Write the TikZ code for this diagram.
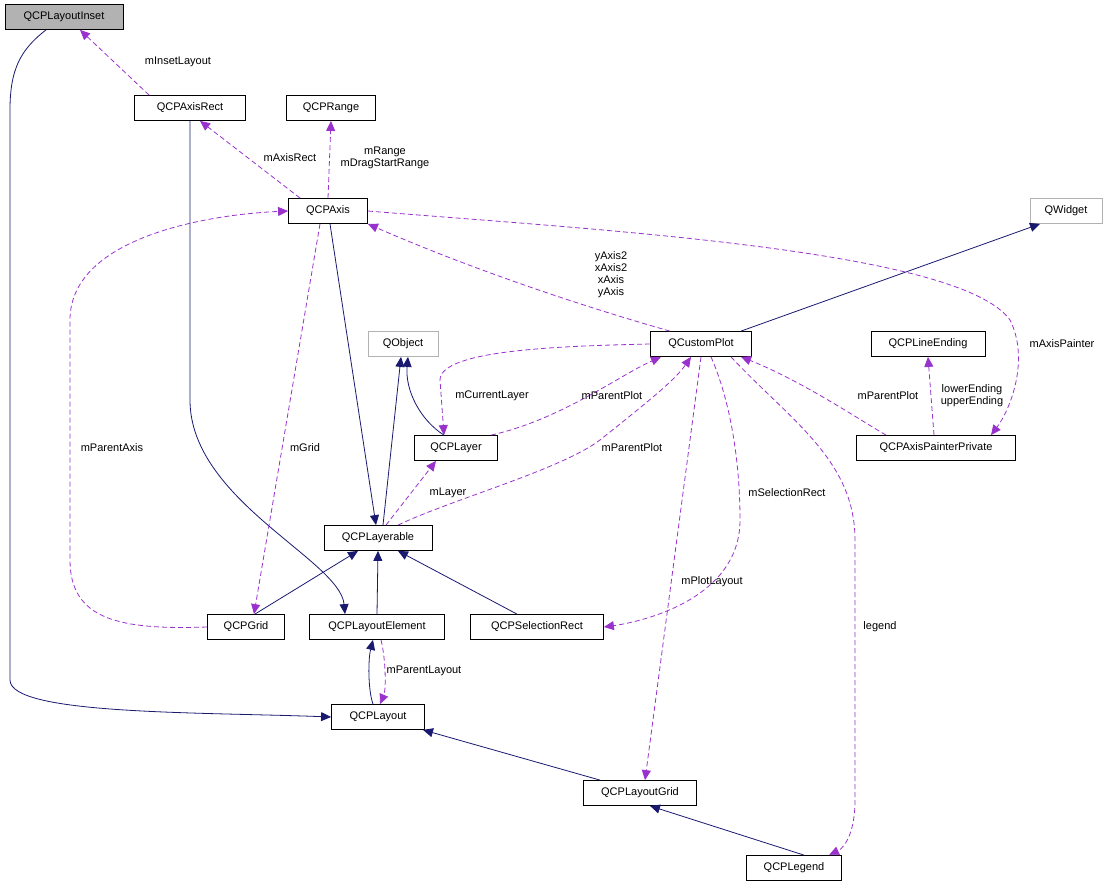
\documentclass[tikz,border=0pt]{standalone}
\usepackage{fontspec}
\setmainfont{Liberation Sans}
\usetikzlibrary{arrows.meta}
\tikzset{
  cls/.style={draw=black, fill=white, inner sep=0pt, minimum height=25pt, thick, font=\fontsize{11}{12}\selectfont},
  ext/.style={cls, draw=gray!60},
  inh/.style={draw={rgb,255:red,25;green,25;blue,112}, -{Triangle[length=10pt,width=9pt]}, thick},
  use/.style={draw={rgb,255:red,153;green,50;blue,204}, dash pattern=on 5pt off 3pt, -{Triangle[length=10pt,width=9pt]}, thick},
  lbl/.style={font=\fontsize{11}{12}\selectfont, align=center}
}
\begin{document}
\begin{tikzpicture}[x=1pt, y=-1pt]
  \useasboundingbox (0,0) rectangle (1108,888);
  % Classes
  \node[cls, fill=gray!60, minimum width=118pt] (inset) at (64,17) {QCPLayoutInset};
  \node[cls, minimum width=111pt] (axisrect) at (190,108) {QCPAxisRect};
  \node[cls, minimum width=89pt] (range) at (331,108) {QCPRange};
  \node[cls, minimum width=79pt] (axis) at (328,211) {QCPAxis};
  \node[ext, minimum width=72pt] (qwidget) at (1066,211) {QWidget};
  \node[ext, minimum width=70pt] (qobject) at (403,344) {QObject};
  \node[cls, minimum width=101pt] (plot) at (701,344) {QCustomPlot};
  \node[cls, minimum width=114pt] (lineend) at (928,344) {QCPLineEnding};
  \node[cls, minimum width=83pt] (layer) at (456,448) {QCPLayer};
  \node[cls, minimum width=159pt] (painter) at (936,448) {QCPAxisPainterPrivate};
  \node[cls, minimum width=108pt] (layerable) at (378,538) {QCPLayerable};
  \node[cls, minimum width=77pt] (grid) at (246,627) {QCPGrid};
  \node[cls, minimum width=135pt] (element) at (377,627) {QCPLayoutElement};
  \node[cls, minimum width=133pt] (selrect) at (537,627) {QCPSelectionRect};
  \node[cls, minimum width=93pt] (layout) at (378,717) {QCPLayout};
  \node[cls, minimum width=113pt] (lgrid) at (640,793) {QCPLayoutGrid};
  \node[cls, minimum width=95pt] (legend) at (794,868) {QCPLegend};
  % Inheritance
  \draw[inh] ([xshift=-18pt]inset.south) .. controls (20,50) and (10,70) .. (10,110) -- (10,680) .. controls (10,715) and (200,712) .. (layout.west);
  \draw[inh] (axisrect.south) -- (190,400) .. controls (190,500) and (340,560) .. ([xshift=-32pt]element.north);
  \draw[inh] ([xshift=2pt]axis.south) -- ([xshift=-2pt]layerable.north);
  \draw[inh] ([xshift=5pt]layerable.north) -- ([xshift=-2pt]qobject.south);
  \draw[inh] ([xshift=-12pt]layer.north) .. controls (420,420) and (405,390) .. ([xshift=5pt]qobject.south);
  \draw[inh] ([xshift=40pt]plot.north) -- ([xshift=-26pt]qwidget.south);
  \draw[inh] (grid.north east) ++(-30,0) -- ([xshift=-20pt]layerable.south);
  \draw[inh] (element.north) -- (layerable.south);
  \draw[inh] ([xshift=-20pt]selrect.north) -- ([xshift=20pt]layerable.south);
  \draw[inh] ([xshift=-5pt]layout.north) .. controls (368,690) and (368,660) .. ([xshift=-4pt]element.south);
  \draw[inh] ([xshift=-40pt]lgrid.north) -- ([xshift=45pt]layout.south);
  \draw[inh] ([xshift=10pt]legend.north) -- ([xshift=10pt]lgrid.south);
  % Usage
  \draw[use] ([xshift=15pt]axisrect.north west) -- ([xshift=16pt]inset.south);
  \node[lbl] (l-inset) at (178,62) {mInsetLayout};
  \draw[use] ([xshift=12pt]axis.north west) -- ([xshift=10pt]axisrect.south);
  \node[lbl] (l-axisrect) at (290,158) {mAxisRect};
  \draw[use] (axis.north) -- (range.south);
  \node[lbl] (l-range) at (385,158) {mRange\\mDragStartRange};
  \draw[use] ([xshift=-31pt]plot.north) .. controls (560,300) and (450,260) .. (axis.south east);
  \node[lbl] (l-axes) at (611,275) {yAxis2\\xAxis2\\xAxis\\yAxis};
  \draw[use] (axis.east) .. controls (600,230) and (960,250) .. (1010,320) .. controls (1030,360) and (1010,410) .. ([xshift=55pt]painter.north);
  \node[lbl] (l-painter) at (1062,344) {mAxisPainter};
  \draw[use] (grid.west) .. controls (120,630) and (70,620) .. (70,560) -- (70,320) .. controls (70,240) and (200,215) .. (axis.west);
  \node[lbl] (l-paxis) at (112,448) {mParentAxis};
  \draw[use] ([xshift=-8pt]axis.south) -- ([xshift=8pt]grid.north);
  \node[lbl] (l-grid) at (305,448) {mGrid};
  \draw[use] (plot.west) .. controls (560,346) and (440,350) .. (440,380) -- ([xshift=-12pt]layer.north);
  \node[lbl] (l-clayer) at (492,396) {mCurrentLayer};
  \draw[use] ([xshift=35pt]layer.north) .. controls (560,420) and (620,375) .. ([xshift=-40pt]plot.south);
  \node[lbl] (l-pplot1) at (612,396) {mParentPlot};
  \draw[use] ([xshift=20pt]layerable.north) .. controls (450,500) and (560,470) .. (600,440) .. controls (650,400) and (675,380) .. ([xshift=-10pt]plot.south);
  \node[lbl] (l-pplot2) at (632,448) {mParentPlot};
  \draw[use] ([xshift=8pt]layerable.north) -- ([xshift=-20pt]layer.south);
  \node[lbl] (l-layer) at (448,493) {mLayer};
  \draw[use] ([xshift=-50pt]painter.north) .. controls (860,420) and (800,380) .. ([xshift=40pt]plot.south);
  \node[lbl] (l-pplot3) at (888,396) {mParentPlot};
  \draw[use] ([xshift=-2pt]painter.north) -- (lineend.south);
  \node[lbl] (l-ends) at (972,396) {lowerEnding\\upperEnding};
  \draw[use] ([xshift=10pt]plot.south) .. controls (730,400) and (740,460) .. (740,520) .. controls (740,600) and (640,622) .. (selrect.east);
  \node[lbl] (l-selrect) at (787,493) {mSelectionRect};
  \draw[use] (plot.south) -- ([xshift=5pt]lgrid.north);
  \node[lbl] (l-plotlayout) at (712,582) {mPlotLayout};
  \draw[use] ([xshift=30pt]plot.south) .. controls (790,420) and (855,460) .. (855,540) -- (855,800) .. controls (855,840) and (840,850) .. ([xshift=35pt]legend.north);
  \node[lbl] (l-legend) at (880,627) {legend};
  \draw[use] ([xshift=4pt]element.south) .. controls (386,660) and (386,690) .. ([xshift=2pt]layout.north);
  \node[lbl] (l-playout) at (424,671) {mParentLayout};
\end{tikzpicture}
\end{document}
